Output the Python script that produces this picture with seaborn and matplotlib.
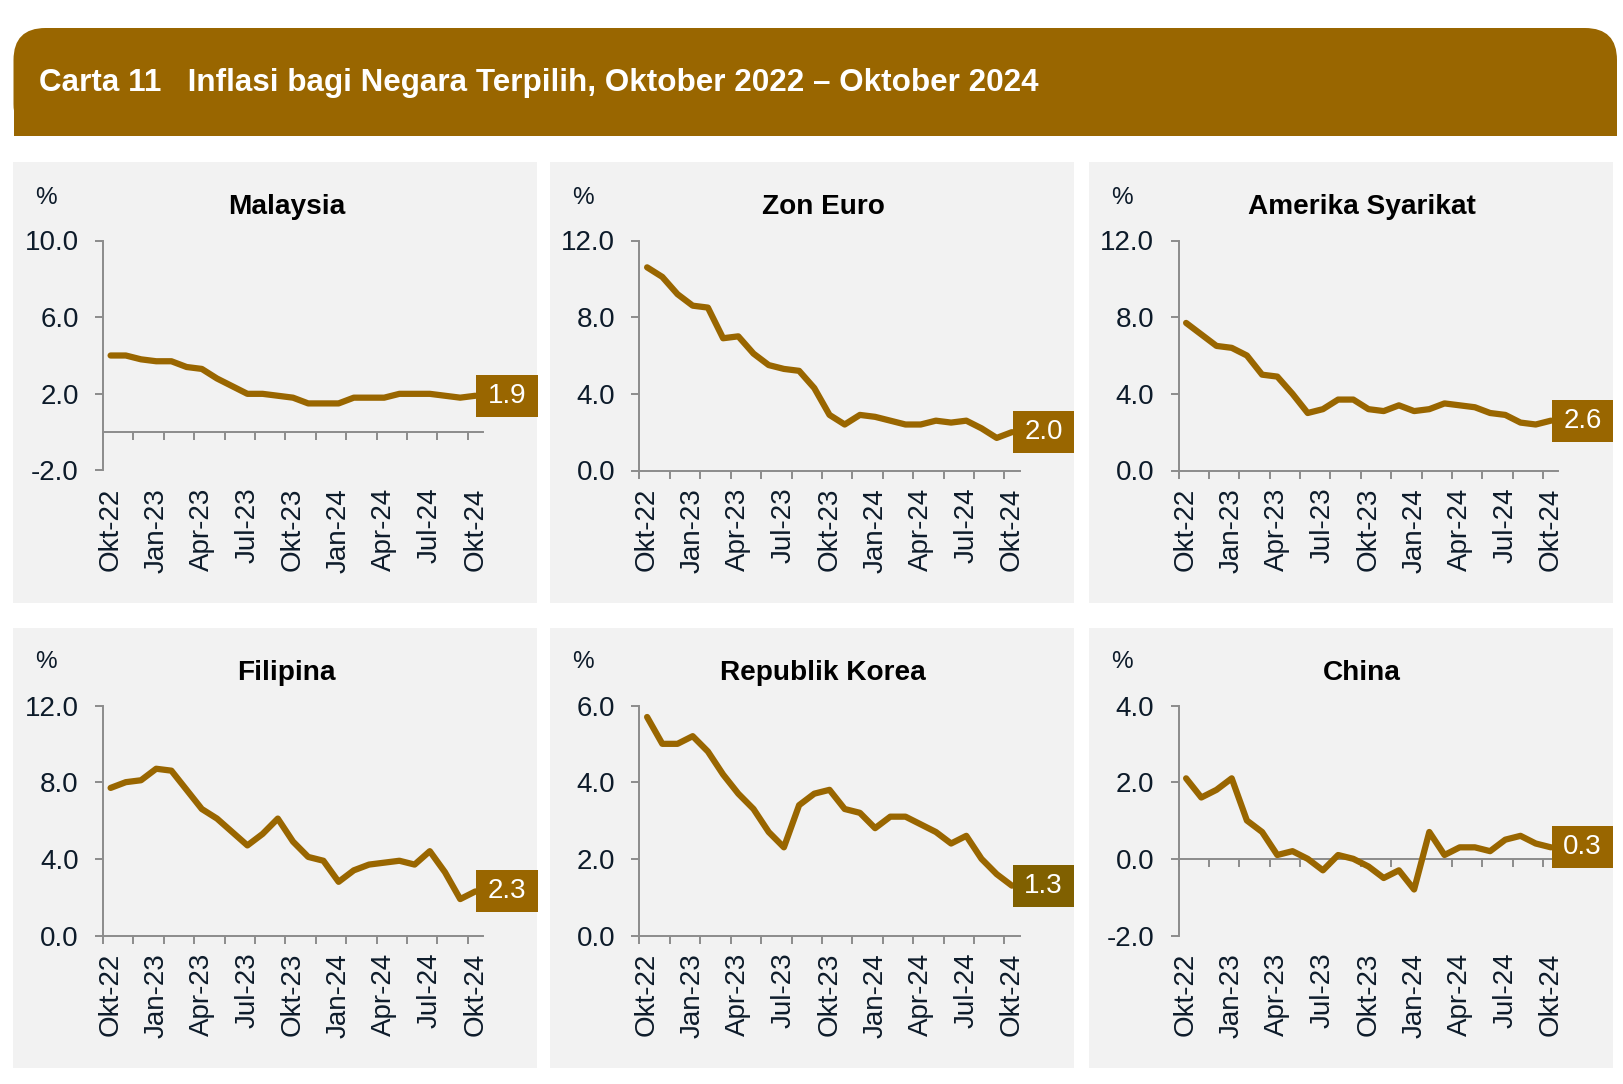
import numpy as np
import matplotlib
matplotlib.use("Agg")
import matplotlib.pyplot as plt
import seaborn as sns
from matplotlib.patches import FancyBboxPatch, Rectangle
from matplotlib.ticker import FormatStrFormatter

# data: inflasi tahunan (%), Okt 2022 - Okt 2024 (25 bulan)
bulan_label = ['Okt-22', 'Jan-23', 'Apr-23', 'Jul-23', 'Okt-23',
               'Jan-24', 'Apr-24', 'Jul-24', 'Okt-24']

malaysia = [4.0, 4.0, 3.8, 3.7, 3.7, 3.4, 3.3, 2.8, 2.4, 2.0, 2.0, 1.9, 1.8,
            1.5, 1.5, 1.5, 1.8, 1.8, 1.8, 2.0, 2.0, 2.0, 1.9, 1.8, 1.9]
zon_euro = [10.6, 10.1, 9.2, 8.6, 8.5, 6.9, 7.0, 6.1, 5.5, 5.3, 5.2, 4.3, 2.9,
            2.4, 2.9, 2.8, 2.6, 2.4, 2.4, 2.6, 2.5, 2.6, 2.2, 1.7, 2.0]
amerika = [7.7, 7.1, 6.5, 6.4, 6.0, 5.0, 4.9, 4.0, 3.0, 3.2, 3.7, 3.7, 3.2,
           3.1, 3.4, 3.1, 3.2, 3.5, 3.4, 3.3, 3.0, 2.9, 2.5, 2.4, 2.6]
filipina = [7.7, 8.0, 8.1, 8.7, 8.6, 7.6, 6.6, 6.1, 5.4, 4.7, 5.3, 6.1, 4.9,
            4.1, 3.9, 2.8, 3.4, 3.7, 3.8, 3.9, 3.7, 4.4, 3.3, 1.9, 2.3]
korea = [5.7, 5.0, 5.0, 5.2, 4.8, 4.2, 3.7, 3.3, 2.7, 2.3, 3.4, 3.7, 3.8,
         3.3, 3.2, 2.8, 3.1, 3.1, 2.9, 2.7, 2.4, 2.6, 2.0, 1.6, 1.3]
china = [2.1, 1.6, 1.8, 2.1, 1.0, 0.7, 0.1, 0.2, 0.0, -0.3, 0.1, 0.0, -0.2,
         -0.5, -0.3, -0.8, 0.7, 0.1, 0.3, 0.3, 0.2, 0.5, 0.6, 0.4, 0.3]

panel_nama = ['Malaysia', 'Zon Euro', 'Amerika Syarikat',
              'Filipina', 'Republik Korea', 'China']
panel_data = [malaysia, zon_euro, amerika, filipina, korea, china]
panel_yticks = [[-2, 2, 6, 10], [0, 4, 8, 12], [0, 4, 8, 12],
                [0, 4, 8, 12], [0, 2, 4, 6], [-2, 0, 2, 4]]

# gaya
EMAS = '#996600'
EMAS_GELAP = '#806000'
KELABU = '#8c8c8c'
TEKS = '#0d1b2a'
SAIZ = 20

sns.set_style('white')
plt.rcParams['font.family'] = ['Liberation Sans', 'DejaVu Sans']
plt.rcParams['axes.unicode_minus'] = False

W, H = 1624, 1084
fig = plt.figure(figsize=(W / 100, H / 100), dpi=100)
fig.patch.set_facecolor('white')

def kotak(x, y, w, h):
    # koordinat piksel dari atas kiri -> koordinat figura
    return [x / W, 1 - (y + h) / H, w / W, h / H]

# tajuk carta (sudut atas bulat)
tr = fig.dpi_scale_trans
hx, hy, hw, hh = 13.5, 28, 1603.5, 108
fig.patches.append(FancyBboxPatch((hx / 100, (H - hy - hh) / 100), hw / 100, hh / 100,
                                  boxstyle='round,pad=0,rounding_size=0.32',
                                  transform=tr, facecolor=EMAS, edgecolor='none', zorder=0))
fig.patches.append(Rectangle((hx / 100, (H - hy - hh) / 100), hw / 100, hh / 200,
                             transform=tr, facecolor=EMAS, edgecolor='none', zorder=0))
fig.text(39 / W, 1 - 83 / H,
         'Carta 11   Inflasi bagi Negara Terpilih, Oktober 2022 \u2013 Oktober 2024',
         color='white', fontsize=22.6, fontweight='bold', va='center', ha='left')

panel_kiri = [13.5, 550, 1089]
panel_atas = [162.5, 627.5]
PW, PH = 524, 440

x_idx = np.arange(len(malaysia))
tanda_kecil = np.arange(-0.5, 24, 2)
tanda_label = np.arange(0, 25, 3)

for i, (nama, nilai, yt) in enumerate(zip(panel_nama, panel_data, panel_yticks)):
    pl = panel_kiri[i % 3]
    pt = panel_atas[i // 3]
    fig.patches.append(Rectangle((pl / W, 1 - (pt + PH) / H), PW / W, PH / H,
                                 transform=fig.transFigure, facecolor='#f2f2f2',
                                 edgecolor='none', zorder=-1))

    ax = fig.add_axes(kotak(pl + 89.5, pt + 78, 380, 230))
    ax.set_facecolor('none')
    sns.lineplot(x=x_idx, y=nilai, ax=ax, color=EMAS, linewidth=4.5,
                 solid_joinstyle='round', solid_capstyle='round')
    ax.set_xlim(-0.5, 24.5)
    ax.set_ylim(yt[0], yt[-1])
    ax.set_yticks(yt)
    ax.yaxis.set_major_formatter(FormatStrFormatter('%.1f'))
    ax.set_xticks(tanda_label)
    ax.set_xticklabels(bulan_label, rotation=90)
    for s in ['top', 'right']:
        ax.spines[s].set_visible(False)
    ax.spines['left'].set_color(KELABU)
    ax.spines['left'].set_linewidth(1.4)
    ax.tick_params(axis='y', direction='out', length=6, width=1.4, color=KELABU,
                   labelsize=SAIZ, labelcolor=TEKS, pad=11.5, left=True)
    ax.tick_params(axis='x', which='major', length=0, labelsize=SAIZ,
                   labelcolor=TEKS, pad=12.5, bottom=True)
    ax.set_xlabel('')
    ax.set_ylabel('')
    ax.grid(False)

    if yt[0] < 0:
        # paksi x bersilang pada 0
        ax.spines['bottom'].set_visible(False)
        pos0 = (0 - yt[0]) / (yt[-1] - yt[0])
        sec = ax.secondary_xaxis(pos0)
        sec.set_xticks(tanda_kecil)
        sec.set_xticklabels([])
        for s in sec.spines.values():
            s.set_color(KELABU)
            s.set_linewidth(1.4)
        sec.tick_params(axis='x', direction='out', length=5.5, width=1.4, color=KELABU)
    else:
        ax.spines['bottom'].set_color(KELABU)
        ax.spines['bottom'].set_linewidth(1.4)
        ax.set_xticks(tanda_kecil, minor=True)
        ax.tick_params(axis='x', which='minor', direction='out', length=5.5,
                       width=1.4, color=KELABU, bottom=True)

    # tajuk panel dan unit
    fig.text((pl + 273) / W, 1 - (pt + 52) / H, nama, fontsize=20.2,
             fontweight='bold', ha='center', va='baseline', color='black')
    fig.text((pl + 22) / W, 1 - (pt + 35) / H, '%', fontsize=17.5, ha='left',
             va='center', color=TEKS)

    # kotak nilai terakhir
    fig.canvas.draw()
    xd, yd = ax.transData.transform((x_idx[-1], nilai[-1]))
    x_kanan = (pl + PW) * 1.0
    warna = EMAS_GELAP if nama == 'Republik Korea' else EMAS
    fig.patches.append(Rectangle((xd + 1, yd - 21), x_kanan - xd - 1, 42, transform=None,
                                 facecolor=warna, edgecolor='none', zorder=2))
    fig.texts.append(matplotlib.text.Text((xd + 1 + x_kanan) / 2, yd, f'{nilai[-1]:.1f}',
                                          transform=None, color='white', fontsize=SAIZ,
                                          ha='center', va='center', figure=fig,
                                          fontfamily=['Liberation Sans', 'DejaVu Sans']))

fig.savefig('out.png', dpi=100, facecolor='white')
